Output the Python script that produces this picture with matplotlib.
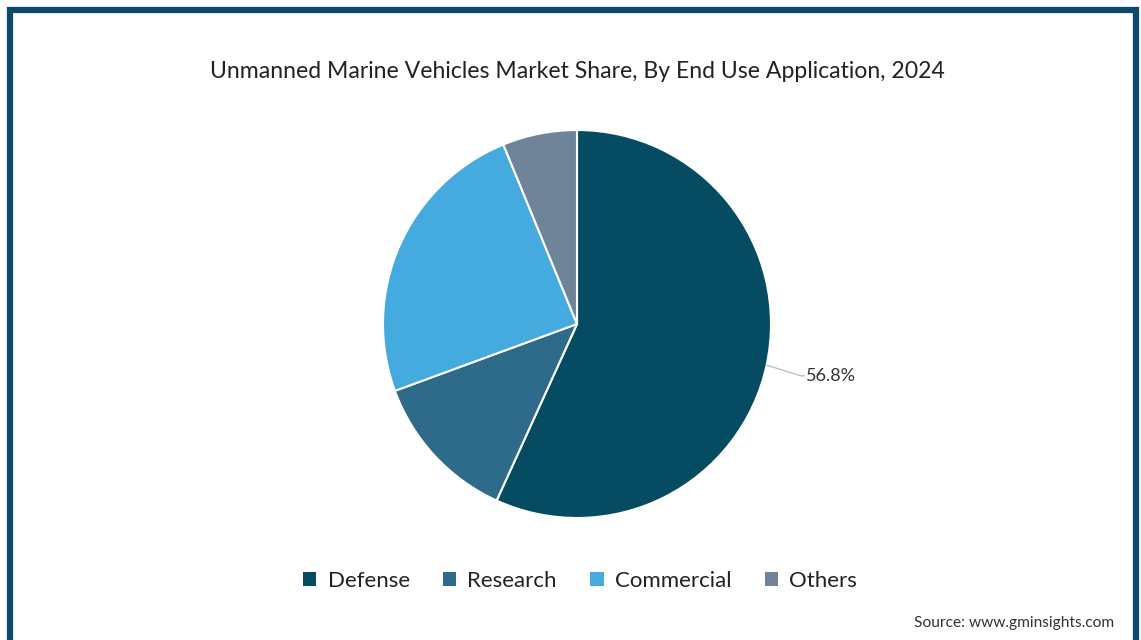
import numpy as np
import matplotlib
matplotlib.use('Agg')
import matplotlib.pyplot as plt
from matplotlib.patches import Rectangle, Patch

plt.rcParams['font.family'] = ['Lato', 'DejaVu Sans']

# Data
segments = ['Defense', 'Research', 'Commercial', 'Others']
shares = [56.8, 12.6, 24.4, 6.2]
colors = ['#054C63', '#2E6A8A', '#45ABDF', '#6F8499']
labeled = {'Defense': '56.8%'}

W, H = 1141, 640
fig = plt.figure(figsize=(W / 100, H / 100), dpi=100)
fig.patch.set_facecolor('white')

# outer frame
fig.patches.append(Rectangle((10 / W, -0.05), (1126 / W), (630 / H) + 0.05,
                             transform=fig.transFigure, fill=False,
                             edgecolor='#0B4A6B', linewidth=4.5))

# pie axes: center (577, 324), radius 194 px
cx, cy, r = 577, 324, 194
ax = fig.add_axes([(cx - r) / W, (H - cy - r) / H, 2 * r / W, 2 * r / H])
wedges, _ = ax.pie(shares, colors=colors, startangle=90, counterclock=False,
                   radius=1, wedgeprops=dict(edgecolor='white', linewidth=1.5))
ax.set_xlim(-1, 1)
ax.set_ylim(-1, 1)
ax.set_aspect('equal')

for w, name in zip(wedges, segments):
    if name in labeled:
        ang = np.deg2rad((w.theta1 + w.theta2) / 2)
        x0, y0 = np.cos(ang), np.sin(ang)
        ax.plot([x0, x0 * 1.18, x0 * 1.20], [y0, y0 - 0.055, y0 - 0.055],
                color='#BBBBBB', linewidth=0.9, clip_on=False)
        ax.text(x0 * 1.21, y0 - 0.055, labeled[name], ha='left', va='center',
                fontsize=13, color='#333333')

fig.text(577 / W, 1 - 72 / H,
         'Unmanned Marine Vehicles Market Share, By End Use Application, 2024',
         ha='center', va='center', fontsize=16.6, color='#222222')

handles = [Patch(facecolor=c, edgecolor='none') for c in colors]
fig.legend(handles, segments, loc='center', bbox_to_anchor=(580 / W, 1 - 581 / H),
           ncol=4, frameon=False, fontsize=16, handlelength=0.6, handleheight=0.6,
           handletextpad=0.5, columnspacing=1.5, labelcolor='#222222')

fig.text(1114 / W, 1 - 623 / H, 'Source: www.gminsights.com', ha='right',
         va='center', fontsize=11.2, color='#333333')

fig.savefig('out.png', dpi=100, facecolor='white')
